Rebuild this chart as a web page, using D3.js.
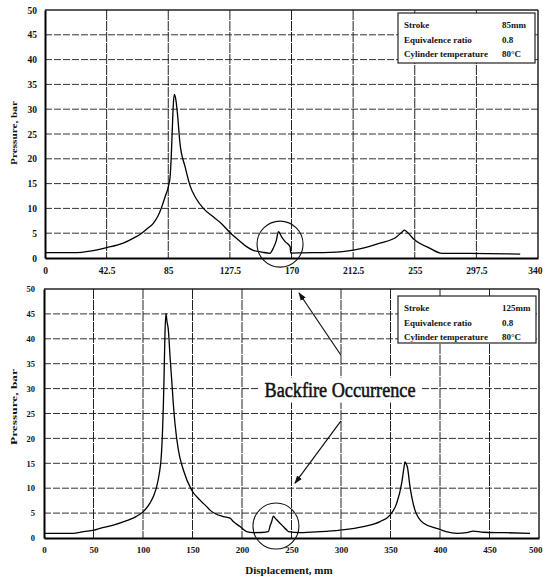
<!DOCTYPE html>
<html>
<head>
<meta charset="utf-8">
<script src="https://cdn.jsdelivr.net/npm/d3@7"></script>
<style>
  body { margin: 0; background: #fff; }
  text { font-family: "Liberation Serif", "DejaVu Serif", serif; font-weight: bold; fill: #111; }
</style>
</head>
<body>
<script>
// stroke 85 mm
var topDisp = [0, 22, 31, 42.5, 54, 61, 66.7, 70, 74.7, 78, 80.5, 83, 85.1, 86.3, 87, 87.8, 88.5, 89.2, 90.2, 91.3, 93.1, 96.6, 100, 104, 109.2, 116, 120.7, 128, 134, 139, 144, 149.5, 155, 157.5, 159.5, 161, 163.3, 165.6, 169, 169.5, 178, 196.6, 212.7, 231, 242.6, 246.5, 247.7, 249.5, 254, 265.6, 273.7, 293, 327.7];
var topPres = [1.1, 1.1, 1.4, 2.1, 3.0, 4.0, 5.0, 5.8, 7.0, 8.5, 10.3, 12.5, 14.4, 16.4, 20, 26, 31, 33, 32, 29.2, 23.1, 18.4, 14.6, 12.1, 10.0, 8.3, 7.2, 5.0, 3.5, 2.3, 1.5, 1.2, 0.95, 2.0, 3.5, 5.3, 4.2, 3.3, 2.3, 1.0, 1.05, 1.15, 1.6, 3.0, 4.3, 5.3, 5.6, 5.3, 3.9, 1.95, 0.95, 0.95, 0.8];

// stroke 125 mm
var botDisp = [0, 29, 40, 50.5, 56.6, 70, 83.5, 93, 100.3, 107, 111, 113.8, 116.5, 118.2, 119.2, 119.9, 120.6, 121.2, 122.2, 123.2, 124.2, 125.6, 127.3, 129, 130.6, 132.3, 135.7, 140.7, 149.2, 157.6, 164.3, 167.7, 181, 187.9, 191.2, 198, 204.8, 211.4, 220, 226.6, 228.5, 230, 231.6, 233.5, 236.7, 241.7, 245.2, 246.9, 258.6, 278.8, 299, 322.5, 339.4, 349.5, 356.3, 361.3, 363.5, 364.6, 366, 367, 369.7, 374.7, 383.1, 396.6, 406, 416.9, 427, 433.6, 443.7, 465.7, 491];
var botPres = [0.94, 0.94, 1.3, 1.6, 1.95, 2.6, 3.5, 4.3, 5.3, 7.0, 8.6, 10.3, 13, 15.7, 19, 22.4, 27, 31.7, 41.1, 45.1, 43.5, 41.8, 36.5, 31.7, 27, 23, 17.7, 13.7, 9.6, 7.6, 6.3, 5.6, 4.3, 4.0, 3.3, 2.3, 1.27, 1.07, 1.1, 1.27, 2.5, 3.3, 4.4, 4.0, 3.3, 2.3, 1.6, 1.3, 1.07, 1.27, 1.6, 2.3, 3.3, 4.6, 7.0, 11, 14, 15.3, 14.8, 14.3, 10.3, 5.6, 3.0, 1.95, 1.3, 0.94, 1.07, 1.4, 1.15, 1.07, 0.94];

var topXTicks = [0, 42.5, 85, 127.5, 170, 212.5, 255, 297.5, 340];
var botXTicks = [0, 50, 100, 150, 200, 250, 300, 350, 400, 450, 500];
var yTicks = [0, 5, 10, 15, 20, 25, 30, 35, 40, 45, 50];

var legendLabels = ["Stroke", "Equivalence ratio", "Cylinder temperature"];
var topLegendValues = ["85mm", "0.8", "80\u00b0C"];
var botLegendValues = ["125mm", "0.8", "80\u00b0C"];

// backfire circles [disp, pressure], arrows [[tail],[head]] in bottom chart units
var topCircle = [162.1, 2.8];
var botCircle = [234.3, 2.4];
var arrows = [[[300, 36.7], [257.6, 49.2]], [[300, 23.5], [253.5, 11.0]]];
var backfireLabel = "Backfire Occurrence";
var backfirePos = [299, 28.4];

var width = 543, height = 583;

var svg = d3.select("body").append("svg")
    .attr("width", width).attr("height", height);

svg.append("defs").append("marker")
    .attr("id", "head")
    .attr("viewBox", "0 0 10 10")
    .attr("refX", 9).attr("refY", 5)
    .attr("markerWidth", 7).attr("markerHeight", 7)
    .attr("orient", "auto")
  .append("path")
    .attr("d", "M0,1.5 L10,5 L0,8.5 Z")
    .attr("fill", "#111");

function drawPanel(opt) {
  var x = d3.scaleLinear().domain(opt.xDomain).range([opt.left, opt.right]);
  var y = d3.scaleLinear().domain([0, 50]).range([opt.bottom, opt.top]);
  var g = svg.append("g");

  // grid
  g.selectAll(".hgrid").data(yTicks.slice(1, -1)).enter().append("line")
      .attr("x1", opt.left).attr("x2", opt.right)
      .attr("y1", function(d) { return y(d); }).attr("y2", function(d) { return y(d); })
      .attr("stroke", "#333").attr("stroke-width", 1)
      .attr("stroke-dasharray", "7,2");
  g.selectAll(".vgrid").data(opt.xTicks.slice(1, -1)).enter().append("line")
      .attr("x1", function(d) { return x(d); }).attr("x2", function(d) { return x(d); })
      .attr("y1", opt.top).attr("y2", opt.bottom)
      .attr("stroke", "#222").attr("stroke-width", 1)
      .attr("stroke-dasharray", "10,1");

  // frame
  g.append("line").attr("x1", opt.left).attr("x2", opt.right).attr("y1", opt.top).attr("y2", opt.top)
      .attr("stroke", "#222").attr("stroke-width", 1.3);
  g.append("line").attr("x1", opt.right).attr("x2", opt.right).attr("y1", opt.top).attr("y2", opt.bottom)
      .attr("stroke", "#222").attr("stroke-width", 1.5);

  var xAxis = d3.axisBottom(x).tickValues(opt.xTicks).tickSize(0).tickPadding(opt.xPad)
      .tickFormat(function(d) { return String(d); });
  var gx = g.append("g").attr("transform", "translate(0," + opt.bottom + ")").call(xAxis);
  gx.select(".domain").attr("stroke", "#000").attr("stroke-width", 2);
  gx.selectAll("text").style("font-size", opt.xFont + "px").attr("fill", "#111");
  // last label sits on the window edge, keep it inside
  gx.selectAll(".tick").filter(function(d, i) { return i == opt.xTicks.length - 1; })
    .select("text").attr("text-anchor", "end").attr("dx", width - 1 - opt.right);

  var yAxis = d3.axisLeft(y).tickValues(yTicks).tickSize(0).tickPadding(opt.yPad);
  var gy = g.append("g").attr("transform", "translate(" + opt.left + ",0)").call(yAxis);
  gy.select(".domain").attr("stroke", "#000").attr("stroke-width", 2);
  gy.selectAll("text").style("font-size", opt.yFont + "px").attr("fill", "#111");

  g.append("text")
      .attr("transform", "translate(" + opt.titleX + "," + opt.titleY + ") rotate(-90)")
      .attr("text-anchor", "middle")
      .attr("textLength", opt.titleLen).attr("lengthAdjust", "spacingAndGlyphs")
      .style("font-size", "9px")
      .text("Pressure, bar");

  var line = d3.line()
      .x(function(d) { return x(d[0]); })
      .y(function(d) { return y(d[1]); })
      .curve(d3.curveMonotoneX);
  g.append("path")
      .datum(d3.zip(opt.disp, opt.pres))
      .attr("d", line)
      .attr("fill", "none").attr("stroke", "#000").attr("stroke-width", 1.3);

  g.append("circle")
      .attr("cx", x(opt.circle[0])).attr("cy", y(opt.circle[1])).attr("r", 23)
      .attr("fill", "none").attr("stroke", "#111").attr("stroke-width", 1.1);

  // legend box
  var lg = g.append("g");
  lg.append("rect")
      .attr("x", opt.box[0]).attr("y", opt.box[1])
      .attr("width", opt.box[2]).attr("height", opt.box[3])
      .attr("fill", "#fff").attr("stroke", "#222").attr("stroke-width", 1.2);
  lg.selectAll(".lab").data(legendLabels).enter().append("text")
      .attr("x", opt.box[0] + 6)
      .attr("y", function(d, i) { return opt.box[1] + 15 + i * 14.5; })
      .style("font-size", "9px")
      .text(function(d) { return d; });
  lg.selectAll(".val").data(opt.legendValues).enter().append("text")
      .attr("x", opt.box[0] + 104)
      .attr("y", function(d, i) { return opt.box[1] + 15 + i * 14.5; })
      .style("font-size", "9px")
      .text(function(d) { return d; });

  return {x: x, y: y, g: g};
}

var top = drawPanel({
  left: 45, right: 538, top: 10, bottom: 258,
  xDomain: [0, 340], xTicks: topXTicks,
  xPad: 9, yPad: 8, xFont: 9.5, yFont: 9.5,
  titleX: 17, titleY: 133, titleLen: 64,
  disp: topDisp, pres: topPres, circle: topCircle,
  box: [398, 13, 137, 50], legendValues: topLegendValues
});

var bot = drawPanel({
  left: 44, right: 539, top: 289, bottom: 538,
  xDomain: [0, 500], xTicks: botXTicks,
  xPad: 9, yPad: 9, xFont: 9, yFont: 8.5,
  titleX: 17, titleY: 407, titleLen: 76,
  disp: botDisp, pres: botPres, circle: botCircle,
  box: [398, 296, 138, 47], legendValues: botLegendValues
});

// backfire annotation
var lx = bot.x(backfirePos[0]), ly = bot.y(backfirePos[1]);
svg.append("rect")
    .attr("x", lx - 82).attr("y", ly - 19)
    .attr("width", 164).attr("height", 25)
    .attr("fill", "#fff");
svg.append("text")
    .attr("x", lx).attr("y", ly)
    .attr("text-anchor", "middle")
    .attr("textLength", 151).attr("lengthAdjust", "spacingAndGlyphs")
    .style("font-size", "20px").style("font-weight", "normal")
    .style("stroke", "#111").style("stroke-width", 0.5)
    .text(backfireLabel);

svg.selectAll(".arrow").data(arrows).enter().append("line")
    .attr("x1", function(d) { return bot.x(d[0][0]); })
    .attr("y1", function(d) { return bot.y(d[0][1]); })
    .attr("x2", function(d) { return bot.x(d[1][0]); })
    .attr("y2", function(d) { return bot.y(d[1][1]); })
    .attr("stroke", "#111").attr("stroke-width", 1.2)
    .attr("marker-end", "url(#head)");

svg.append("text")
    .attr("x", 289).attr("y", 574)
    .attr("text-anchor", "middle")
    .style("font-size", "11px")
    .text("Displacement, mm");
</script>
</body>
</html>
